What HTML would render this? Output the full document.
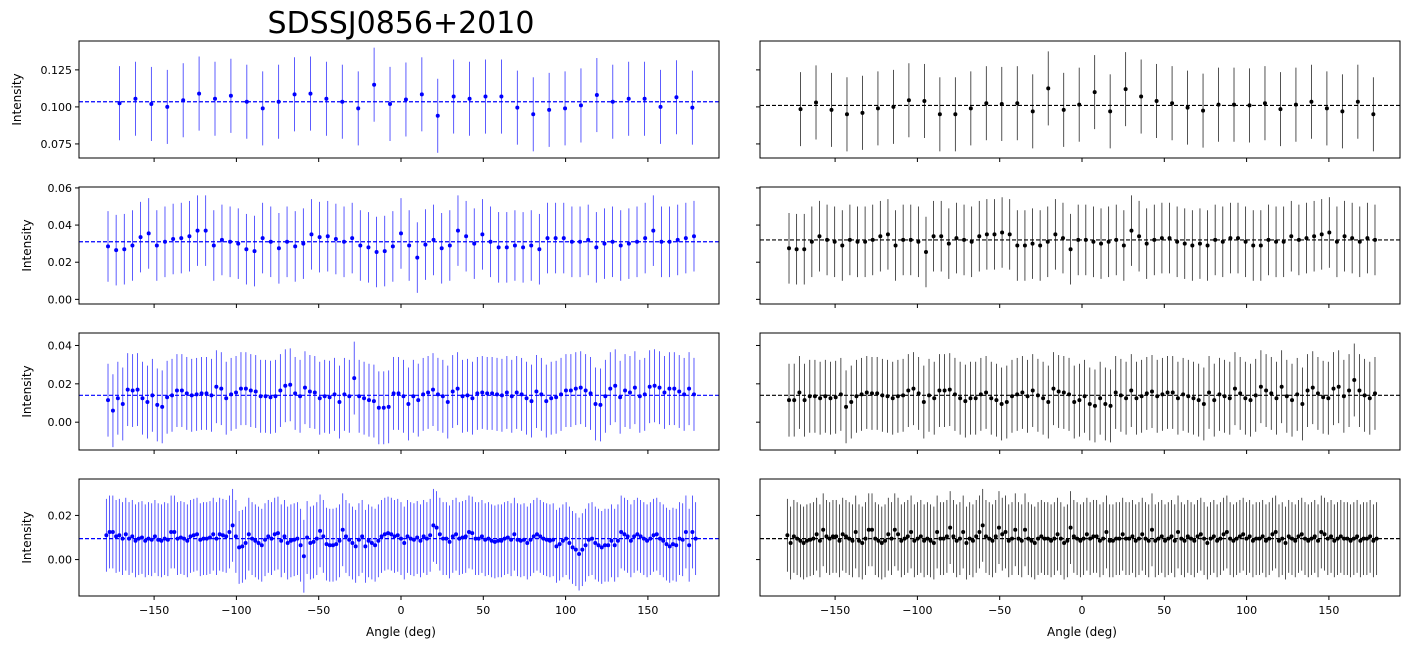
<!DOCTYPE html>
<html><head><meta charset="utf-8"><style>
body{margin:0;background:#fff;font-family:"DejaVu Sans","Liberation Sans",sans-serif}
svg text{font-family:"DejaVu Sans","Liberation Sans",sans-serif}
</style></head><body>
<svg id="c" width="1416" height="649">
<text x="401" y="33" font-size="30" text-anchor="middle">SDSSJ0856+2010</text>
</svg>
<script>
const r1L=[.1025,.1055,.102,.100,.1045,.109,.1055,.1075,.1035,.099,.1035,.1085,.109,.1055,.1035,.099,.115,.102,.105,.1085,.094,.107,.1055,.107,.107,.0995,.095,.098,.099,.101,.108,.1035,.1055,.1055,.100,.1065,.0995];
const r1R=[.0985,.103,.098,.095,.096,.099,.100,.1045,.104,.095,.095,.099,.1025,.102,.1025,.097,.1125,.098,.1015,.110,.097,.112,.107,.104,.1025,.0995,.0975,.1015,.1015,.101,.1025,.0985,.1015,.1035,.099,.097,.1035,.095];
const r2L=[.0285,.0265,.027,.029,.0335,.0355,.029,.031,.0325,.033,.034,.037,.037,.029,.032,.031,.030,.027,.026,.033,.031,.0275,.031,.0285,.030,.035,.0335,.034,.0325,.031,.033,.029,.028,.0255,.026,.0285,.0355,.029,.0225,.0295,.032,.0275,.029,.037,.034,.030,.035,.031,.028,.028,.029,.028,.029,.027,.033,.033,.033,.031,.031,.032,.028,.030,.031,.029,.030,.031,.033,.037,.031,.031,.032,.033,.034];
const r2R=[.0275,.027,.027,.031,.034,.032,.031,.029,.032,.031,.031,.032,.034,.035,.029,.032,.032,.031,.0255,.034,.034,.030,.033,.032,.031,.034,.035,.035,.036,.035,.029,.029,.030,.029,.031,.035,.033,.027,.032,.032,.031,.030,.031,.032,.029,.037,.034,.030,.032,.033,.033,.031,.030,.029,.030,.029,.032,.031,.033,.033,.031,.029,.029,.032,.031,.031,.034,.032,.033,.034,.035,.036,.031,.034,.033,.031,.033,.032];
const r3L=[.0115,.006,.0125,.0095,.017,.0165,.017,.0125,.0105,.014,.009,.008,.013,.014,.0165,.0165,.015,.014,.0145,.015,.015,.014,.0185,.0175,.0125,.0145,.0155,.0175,.0175,.0165,.016,.0135,.0135,.013,.0135,.0165,.019,.0195,.015,.0135,.018,.016,.0155,.0125,.0135,.013,.0145,.0105,.0145,.0135,.023,.0135,.0125,.0115,.011,.0075,.0075,.008,.015,.015,.0135,.0095,.0135,.0115,.0145,.0155,.017,.0145,.0135,.0105,.016,.0175,.0135,.014,.0125,.015,.0155,.015,.015,.0145,.014,.0155,.0135,.0155,.0145,.0125,.011,.016,.0145,.011,.0125,.013,.0145,.0165,.0165,.0175,.018,.0165,.015,.0095,.009,.0135,.0175,.019,.013,.0165,.0155,.018,.0135,.0145,.0185,.019,.018,.0155,.0175,.0175,.016,.0145,.0175,.0145];
const r3R=[.0115,.0115,.0155,.0115,.0135,.0135,.0125,.0135,.0125,.013,.0145,.008,.0105,.0135,.0145,.0155,.015,.015,.014,.0135,.0125,.0135,.014,.0165,.0175,.015,.0105,.014,.0125,.0165,.0165,.017,.0145,.0125,.011,.0125,.0125,.0145,.0155,.0125,.0115,.0095,.0105,.0135,.0145,.0155,.0135,.0165,.014,.0125,.0105,.0175,.016,.0155,.0145,.0105,.0115,.0135,.0095,.0085,.0125,.0095,.0085,.0155,.014,.0125,.0165,.0125,.0135,.015,.016,.0135,.0145,.0155,.0155,.0125,.0145,.0135,.0125,.0115,.0095,.0155,.0115,.0145,.0135,.0125,.0175,.015,.0125,.0115,.014,.0185,.0165,.015,.0125,.0185,.0135,.0115,.0145,.0095,.0165,.018,.015,.013,.0125,.0175,.0185,.0135,.0165,.022,.0165,.014,.0125,.015];
const r4L=[.011,.0125,.0125,.0105,.011,.0095,.0115,.0095,.0105,.0085,.0095,.01,.0085,.0095,.009,.0105,.009,.0085,.0095,.009,.0125,.0125,.0095,.01,.0095,.0085,.0105,.011,.0115,.009,.0095,.0095,.01,.0115,.0095,.0115,.011,.0105,.0125,.0155,.0105,.0055,.006,.0075,.0115,.0095,.0085,.0075,.0065,.009,.0105,.0095,.0115,.012,.0085,.0105,.0075,.0085,.009,.0095,.0065,.0015,.01,.0075,.008,.0095,.013,.0105,.007,.0065,.0065,.007,.0085,.0135,.0105,.009,.0075,.006,.009,.0105,.006,.0085,.0075,.0065,.0085,.0105,.0115,.012,.0115,.0105,.011,.0095,.0075,.0105,.0095,.009,.01,.0085,.0105,.0095,.011,.0155,.0145,.0115,.0095,.0095,.008,.0105,.0115,.0095,.01,.0105,.0125,.012,.0095,.0095,.0105,.009,.0095,.0085,.008,.0085,.0085,.0095,.01,.009,.0115,.009,.0085,.009,.0075,.009,.0105,.0115,.0105,.0095,.009,.0085,.009,.006,.007,.0085,.0095,.0075,.0055,.0045,.0025,.0045,.0065,.009,.0095,.0075,.0065,.0055,.0065,.0065,.0085,.0065,.0085,.0125,.0115,.0105,.0085,.0105,.0115,.0105,.0095,.0085,.0095,.011,.0115,.0095,.0085,.007,.006,.007,.0065,.0095,.009,.0125,.0065,.0125,.0095];
const r4R=[.011,.0075,.0105,.0095,.0085,.0075,.0085,.009,.0095,.0115,.0085,.0135,.0105,.0095,.0105,.0105,.0085,.0115,.0105,.0095,.0085,.0125,.0085,.0075,.0095,.0135,.0135,.0095,.0085,.0075,.0085,.0115,.0095,.0135,.0115,.0085,.0095,.0105,.0125,.0085,.0095,.0105,.0085,.0095,.0085,.0075,.0125,.0095,.0095,.0105,.0145,.0105,.0085,.0095,.0125,.0075,.0095,.0085,.0105,.0125,.0155,.0105,.0095,.0085,.0105,.0145,.0115,.0125,.0085,.0095,.0135,.0095,.0085,.0135,.0095,.0085,.0075,.0095,.0105,.0095,.0095,.0085,.0095,.0115,.0095,.0075,.0085,.0145,.0105,.0095,.0085,.0095,.0115,.0095,.0105,.0105,.0085,.0095,.0125,.0085,.0085,.0095,.0095,.0115,.0095,.0095,.0105,.0085,.0095,.0115,.0095,.0085,.0135,.0085,.0095,.0105,.0085,.0095,.0105,.0085,.0125,.0095,.0085,.0105,.0095,.0085,.0105,.0115,.0095,.0075,.0095,.0105,.0085,.0095,.0115,.0125,.0095,.0085,.0095,.0105,.0115,.0095,.0105,.0085,.0095,.0095,.0105,.0085,.0095,.0115,.0125,.0085,.0095,.0075,.0105,.0095,.0085,.0105,.0115,.0095,.0085,.0095,.0105,.0085,.0125,.0115,.0095,.0105,.0085,.0095,.0105,.0095,.0095,.0085,.0095,.0105,.0085,.0095,.0095,.0105,.0085,.0095];
const means=[[.1035,.101],[.031,.032],[.014,.014],[.0095,.0095]];
const errs=[.025,.019,.019,.0165];
const starts=[-171,-178,-178,-179];
const ends=[177,178,178,179];
const xTicks=[-150,-100,-50,0,50,100,150];
const yTicks=[[.075,.100,.125],[0,.02,.04,.06],[0,.02,.04],[0,.02]];
const yLabels=[["0.075","0.100","0.125"],["0.00","0.02","0.04","0.06"],["0.00","0.02","0.04"],["0.00","0.02"]];
const yRange=[[.0655,.1445],[-.0025,.0605],[-.0145,.0465],[-.0165,.0365]];
const series=[[r1L,r1R],[r2L,r2R],[r3L,r3R],[r4L,r4R]];
const NS='http://www.w3.org/2000/svg';
const svg=document.getElementById('c');
function mk(t,a,p){const e=document.createElementNS(NS,t);for(const k in a)e.setAttribute(k,a[k]);(p||svg).appendChild(e);return e;}
const tops=[41,187,333,479],H=117,W=640,lefts=[79,760];
for(let r=0;r<4;r++){for(let c=0;c<2;c++){
 const x0=lefts[c],y0=tops[r];
 const g=mk('g',{});
 
 
 const X=a=>x0+322+a*1.646;
 const Y=v=>y0+H-(v-yRange[r][0])/(yRange[r][1]-yRange[r][0])*H;
 const col=c?'#000':'#00f';
 const vals=series[r][c];const n=vals.length;
 const step=(ends[r]-starts[r])/(n-1);
 for(let i=0;i<n;i++){const a=starts[r]+step*i;const v=vals[i];
  const l=mk('line',{x1:X(a),x2:X(a),y1:Y(v-errs[r]),y2:Y(v+errs[r]),stroke:col,'stroke-width':0.8,'stroke-opacity':c?0.85:0.8},g);
  
  
  const p=mk('circle',{cx:X(a),cy:Y(v),r:2,fill:col},g);
  
  
 }
 const m=mk('line',{x1:x0,x2:x0+W,y1:Y(means[r][c]),y2:Y(means[r][c]),stroke:col,'stroke-width':1.2,'stroke-dasharray':'4,2'},g);
 
 
 mk('rect',{x:x0,y:y0,width:W,height:H,fill:'none',stroke:'#000','stroke-width':1},g);
 xTicks.forEach(t=>{mk('line',{x1:X(t),x2:X(t),y1:y0+H,y2:y0+H+4,stroke:'#000'},g);
  if(r==3){const tx=mk('text',{x:X(t),y:y0+H+18,'font-size':11,'text-anchor':'middle'},g);tx.textContent=(t<0?'\u2212'+(-t):t);
   
   }});
 yTicks[r].forEach((t,k)=>{mk('line',{x1:x0-4,x2:x0,y1:Y(t),y2:Y(t),stroke:'#000'},g);
  if(c==0){const tx=mk('text',{x:x0-7,y:Y(t)+4,'font-size':11,'text-anchor':'end'},g);tx.textContent=yLabels[r][k];
   
   }});
 if(c==0){const yl=mk('text',{x:0,y:0,'font-size':12,'text-anchor':'middle',transform:`translate(${r==0?21:31},${y0+H/2}) rotate(-90)`},g);yl.textContent='Intensity';
  
  }
 if(r==3){const xl=mk('text',{x:x0+322,y:636,'font-size':12,'text-anchor':'middle'},g);xl.textContent='Angle (deg)';
  
  }
}}
</script>
</body></html>
